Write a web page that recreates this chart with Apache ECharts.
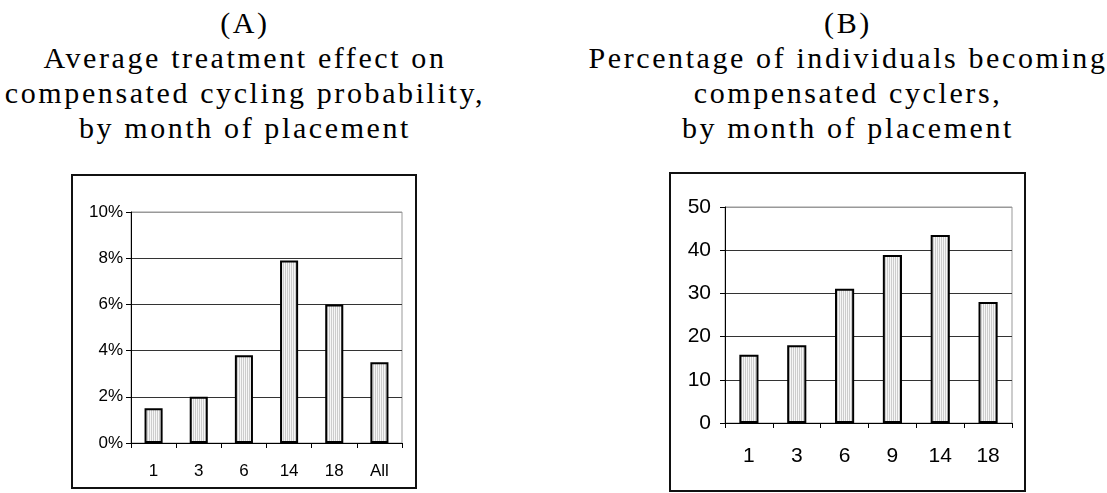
<!DOCTYPE html>
<html>
<head>
<meta charset="utf-8">
<script src="https://cdn.jsdelivr.net/npm/echarts@6/dist/echarts.min.js"></script>
<style>
    body { margin: 0; background: #fff; width: 1107px; height: 493px; position: relative; overflow: hidden; }
    .ttl {
        position: absolute; top: 5px; text-align: center; white-space: nowrap;
        font-family: 'Liberation Serif', 'Times New Roman', serif;
        font-size: 30px; line-height: 35px; letter-spacing: 2.6px; color: #000;
    }
    .box { position: absolute; border: 2px solid #111; box-sizing: border-box; }
</style>
</head>
<body>
<div class="ttl" style="left:0; width:490px;">(A)<br>Average treatment effect on<br>compensated cycling probability,<br>by month of placement</div>
<div class="ttl" style="left:588px; width:520px;">(B)<br>Percentage of individuals becoming<br>compensated cyclers,<br>by month of placement</div>
<div class="box" id="chart01" style="left:71px; top:174px; width:346px; height:315px;"></div>
<div class="box" id="chart02" style="left:669px; top:172px; width:357px; height:320px;"></div>
<script>
// panel A: average treatment effect (%)
var monthsA = ['1', '3', '6', '14', '18', 'All'];
var effectA = [1.5, 2.0, 3.8, 7.9, 6.0, 3.5];
var yMaxA = 10, yStepA = 2;

// panel B: percentage becoming compensated cyclers
var monthsB = ['1', '3', '6', '9', '14', '18'];
var pctB = [15.8, 18.0, 31.1, 38.9, 43.5, 28.0];
var yMaxB = 50, yStepB = 10;

// vertical hatch fill like the excel bars
var stripe = document.createElement('canvas');
stripe.width = 2;
stripe.height = 1;
var ctx = stripe.getContext('2d');
ctx.fillStyle = '#cccccc';
ctx.fillRect(0, 0, 1, 1);
ctx.fillStyle = '#f6f6f6';
ctx.fillRect(1, 0, 1, 1);

var chart01 = echarts.init(document.getElementById('chart01'));
var chart02 = echarts.init(document.getElementById('chart02'));

function barOption(cats, vals, yMax, yStep, fmt, fontSize, grid, xMargin, yMargin) {
    var gridColors = [];
    for (var v = 0; v < yMax; v += yStep) gridColors.push('#333');
    gridColors.push('#999');
    return {
        animation: false,
        textStyle: {fontFamily: 'Liberation Sans, Arial, sans-serif'},
        grid: {
            left: grid[0], top: grid[1], right: grid[2], bottom: grid[3],
            show: true, borderColor: '#999', borderWidth: 1
        },
        xAxis: {
            type: 'category',
            data: cats,
            boundaryGap: true,
            axisLine: {lineStyle: {color: '#000', width: 1}},
            axisTick: {show: true, length: 5, lineStyle: {color: '#000'}},
            axisLabel: {color: '#000', fontSize: fontSize, margin: xMargin}
        },
        yAxis: {
            type: 'value',
            min: 0,
            max: yMax,
            interval: yStep,
            axisLine: {show: true, lineStyle: {color: '#000', width: 1}},
            axisTick: {show: true, length: 5, lineStyle: {color: '#000'}},
            axisLabel: {color: '#000', fontSize: fontSize, margin: yMargin, formatter: fmt},
            splitLine: {show: true, lineStyle: {color: gridColors, width: 1}}
        },
        series: [{
            type: 'bar',
            data: vals,
            barWidth: '40%',
            itemStyle: {
                color: {image: stripe, repeat: 'repeat'},
                borderColor: '#000',
                borderWidth: 2
            }
        }]
    };
}

chart01.setOption(barOption(monthsA, effectA, yMaxA, yStepA, '{value}%', 17, [58, 36, 13, 44], 20, 8));
chart02.setOption(barOption(monthsB, pctB, yMaxB, yStepB, '{value}', 21, [54, 33, 12, 67], 23, 14));
</script>
</body>
</html>
